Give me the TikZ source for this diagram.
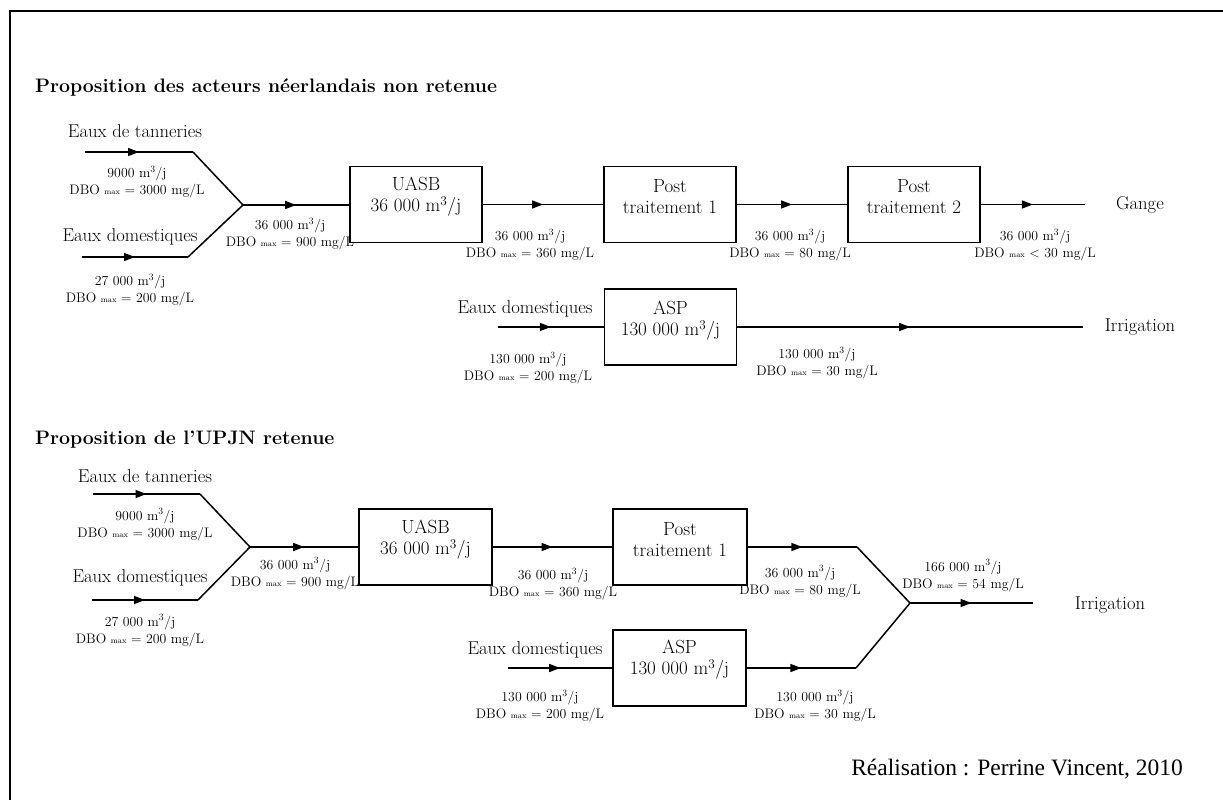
\documentclass[tikz,border=0pt]{standalone}
\usepackage{fontspec}
\newfontfamily\footfont{Liberation Serif}
\usetikzlibrary{arrows.meta,decorations.markings}
\newcommand\dbomax[1]{DBO~{\fontsize{8}{9}\selectfont max}~#1~mg/L}
\newcommand\flowval[1]{#1~m\textsuperscript{3}/j}
\tikzset{
 pipe/.style={line width=1.5pt},
 flow/.style={pipe, postaction={decorate}, decoration={markings, mark=at position 0.5 with {\arrow{Triangle[length=11pt,width=8pt]}}}},
 unit/.style={draw, line width=1.5pt, minimum width=132pt, minimum height=76pt, inner sep=0pt},
 unittext/.style={align=center, font=\fontsize{19}{21}\selectfont, inner sep=0pt},
 inlabel/.style={font=\fontsize{18.6}{21}\selectfont, inner sep=0pt},
 flowlabel/.style={align=center, font=\fontsize{13.8}{17}\selectfont, inner sep=0pt},
 titletext/.style={anchor=west, font=\fontsize{19.5}{22}\selectfont\bfseries, inner sep=0pt},
}
\begin{document}
\begin{tikzpicture}[x=1pt,y=-1pt]
\useasboundingbox (0,0) rectangle (1223,800);
% frame
\draw[line width=2.5pt] (10,810) -- (10,11) -- (1230,11);

% ===== Section 1 =====
\node[titletext] (t1) at (35,88) {Proposition des acteurs néerlandais non retenue};

\node[inlabel] (tan1) at (135,131) {Eaux de tanneries};
\coordinate (s1a) at (85,152);
\coordinate (b1a) at (193,152);
\coordinate (j1) at (243,205);
\node[flowlabel] (l1a) at (137,182) {\flowval{9000}\\\dbomax{= 3000}};
\node[inlabel] (dom1) at (130,237) {Eaux domestiques};
\coordinate (s1b) at (82,257);
\coordinate (b1b) at (188,257);
\node[flowlabel] (l1b) at (130,290) {\flowval{27 000}\\\dbomax{= 200}};

\node[unit] (uasb1) at (416,204.5) {};
\node[unittext] (uasb1t) at (416,197) {UASB\\\flowval{36 000}};
\node[unit] (pta1) at (670,204.5) {};
\node[unittext] (pta1t) at (670,197) {Post\\traitement 1};
\node[unit] (ptb1) at (914,204.5) {};
\node[unittext] (ptb1t) at (914,197) {Post\\traitement 2};
\coordinate (g1) at (1085,204.5);
\node[inlabel] (gange) at (1140,205) {Gange};

\draw[flow] (s1a) -- (b1a);
\draw[pipe] (b1a) -- (j1);
\draw[flow] (s1b) -- (b1b);
\draw[pipe] (b1b) -- (j1);
\draw[flow] (j1) -- (uasb1.west |- j1);
\draw[flow] (uasb1.east) -- (pta1.west);
\draw[flow] (pta1.east) -- (ptb1.west);
\draw[flow] (ptb1.east) -- (g1);

\node[flowlabel] (l1c) at (290,234) {\flowval{36 000}\\\dbomax{= 900}};
\node[flowlabel] (l1d) at (530,245) {\flowval{36 000}\\\dbomax{= 360}};
\node[flowlabel] (l1e) at (790,245) {\flowval{36 000}\\\dbomax{= 80}};
\node[flowlabel] (l1f) at (1035,245) {\flowval{36 000}\\\dbomax{< 30}};

\node[unit] (asp1) at (670.5,327) {};
\node[unittext] (asp1t) at (670.5,321) {ASP\\\flowval{130 000}};
\node[inlabel] (dom1c) at (525,309) {Eaux domestiques};
\coordinate (s1c) at (498,327);
\coordinate (i1) at (1083,327);
\node[inlabel] (irr1) at (1140,327) {Irrigation};
\draw[flow] (s1c) -- (asp1.west);
\draw[flow] (asp1.east) -- (i1);
\node[flowlabel] (l1g) at (528,368) {\flowval{130 000}\\\dbomax{= 200}};
\node[flowlabel] (l1h) at (817,363) {\flowval{130 000}\\\dbomax{= 30}};

% ===== Section 2 =====
\node[titletext] (t2) at (35,440) {Proposition de l’UPJN retenue};

\node[inlabel] (tan2) at (145,476) {Eaux de tanneries};
\coordinate (s2a) at (93,494);
\coordinate (b2a) at (200,494);
\coordinate (j2) at (250,547);
\node[flowlabel] (l2a) at (145,524.5) {\flowval{9000}\\\dbomax{= 3000}};
\node[inlabel] (dom2) at (140,578) {Eaux domestiques};
\coordinate (s2b) at (92,600);
\coordinate (b2b) at (198,600);
\node[flowlabel] (l2b) at (140,630.5) {\flowval{27 000}\\\dbomax{= 200}};

\node[unit, minimum width=133pt] (uasb2) at (425.5,547) {};
\node[unittext] (uasb2t) at (425.5,540) {UASB\\\flowval{36 000}};
\node[unit, minimum width=134pt] (pta2) at (680,547) {};
\node[unittext] (pta2t) at (680,540) {Post\\traitement 1};
\coordinate (b2c) at (857,547);
\coordinate (j3) at (910,603);

\draw[flow] (s2a) -- (b2a);
\draw[pipe] (b2a) -- (j2);
\draw[flow] (s2b) -- (b2b);
\draw[pipe] (b2b) -- (j2);
\draw[flow] (j2) -- (uasb2.west |- j2);
\draw[flow] (uasb2.east) -- (pta2.west);
\draw[flow] (pta2.east) -- (b2c);
\draw[pipe] (b2c) -- (j3);

\node[flowlabel] (l2c) at (295,573.5) {\flowval{36 000}\\\dbomax{= 900}};
\node[flowlabel] (l2d) at (553,584) {\flowval{36 000}\\\dbomax{= 360}};
\node[flowlabel] (l2e) at (800,581.5) {\flowval{36 000}\\\dbomax{= 80}};

\node[unit, minimum width=133pt] (asp2) at (679.5,668) {};
\node[unittext] (asp2t) at (679.5,660) {ASP\\\flowval{130 000}};
\node[inlabel] (dom2c) at (535,650) {Eaux domestiques};
\coordinate (s2c) at (508,668);
\coordinate (b2d) at (856,668);
\draw[flow] (s2c) -- (asp2.west);
\draw[flow] (asp2.east) -- (b2d);
\draw[pipe] (b2d) -- (j3);
\node[flowlabel] (l2f) at (540,706) {\flowval{130 000}\\\dbomax{= 200}};
\node[flowlabel] (l2g) at (815,706) {\flowval{130 000}\\\dbomax{= 30}};

\coordinate (i2) at (1033,603);
\draw[flow] (j3) -- (i2);
\node[flowlabel] (l2h) at (963,575.5) {\flowval{166 000}\\\dbomax{= 54}};
\node[inlabel] (irr2) at (1110,605) {Irrigation};

\node[font=\footfont\fontsize{23.5}{26}\selectfont, inner sep=0pt] (credit) at (1017,769) {Réalisation : Perrine Vincent, 2010};
\end{tikzpicture}
\end{document}
